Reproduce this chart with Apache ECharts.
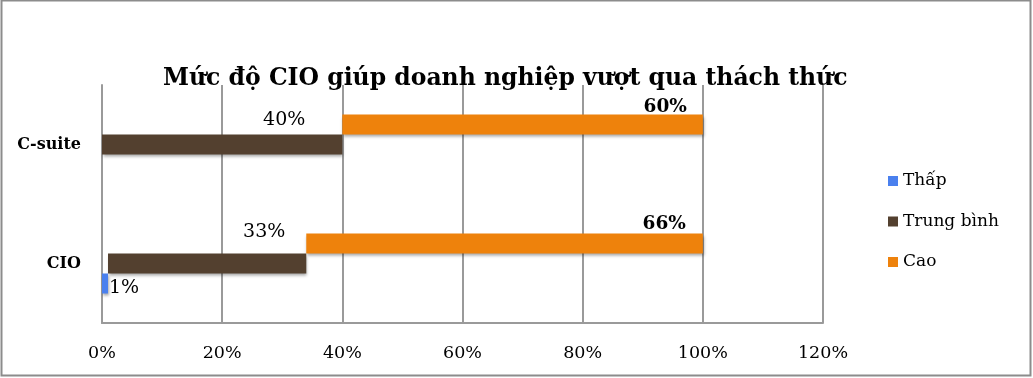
<!DOCTYPE html>
<html><head><meta charset="utf-8">
<script src="https://cdn.jsdelivr.net/npm/echarts@6/dist/echarts.min.js"></script>
<style>html,body{margin:0;padding:0;background:#fff}#c{width:1033px;height:378px}</style>
</head><body><div id="c"></div>
<script>
const categories = ['CIO', 'C-suite'];
const seriesNames = ['Thấp', 'Trung bình', 'Cao'];
const thap = [1, 0];
const trungBinh = [33, 40];
const cao = [66, 60];
const xTicks = [0, 20, 40, 60, 80, 100, 120];

// label placement tweaks (pixels), per category
const tbLabelOffsets = [[-21, -21], [-37, -14]];
const caoLabelOffsets = [[-17, -9], [-16, -7]];

const FONT = 'DejaVu Serif';
const colors = {thap: '#4a80ee', tb: '#53402f', cao: '#ee820c'};
const baseTb = thap.slice();
const baseCao = thap.map((v, i) => v + trungBinh[i]);

const shadow = {shadowColor: 'rgba(0,0,0,0.35)', shadowBlur: 3, shadowOffsetX: 1, shadowOffsetY: 2};
const common = {type: 'bar', barWidth: 20, barGap: '0%'};
const withOffsets = (vals, offs) => vals.map((v, i) => ({value: v, label: {offset: offs[i]}}));
const chart = echarts.init(document.getElementById('c'));
chart.setOption({
  animation: false,
  backgroundColor: '#fff',
  title: {text: 'Mức độ CIO giúp doanh nghiệp vượt qua thách thức', left: 158, top: 62,
    textStyle: {fontFamily: FONT, fontWeight: 'bold', fontSize: 23.5, color: '#000'}},
  legend: {orient: 'vertical', left: 883, top: 166, itemWidth: 10, itemHeight: 10, itemGap: 20.5,
    data: seriesNames, icon: 'rect',
    textStyle: {fontFamily: FONT, fontSize: 17, color: '#000', lineHeight: 20}},
  grid: {left: 102, right: 210, top: 85, bottom: 55, containLabel: false},
  xAxis: {type: 'value', min: 0, max: 120, interval: 20,
    axisLine: {show: true, lineStyle: {color: '#9a9a9a', width: 2}},
    axisTick: {show: false},
    splitLine: {show: true, lineStyle: {color: '#9a9a9a', width: 2}},
    axisLabel: {margin: 21, formatter: v => v + '%', fontFamily: FONT, fontSize: 17.5, color: '#000'}},
  yAxis: {type: 'category', data: categories,
    axisLine: {show: true, lineStyle: {color: '#9a9a9a', width: 2}},
    axisTick: {show: false},
    axisLabel: {margin: 21, fontFamily: FONT, fontSize: 16, fontWeight: 'bold', color: '#000'}},
  series: [
    Object.assign({}, common, {name: 'Cao-base', stack: 's3', data: baseCao, itemStyle: {color: 'transparent'}, silent: true}),
    Object.assign({}, common, {name: 'Cao', stack: 's3', data: withOffsets(cao, caoLabelOffsets),
      itemStyle: Object.assign({color: colors.cao}, shadow),
      label: {show: true, position: 'insideTopRight', formatter: p => p.value + '%', fontFamily: FONT, fontSize: 18.5, fontWeight: 'bold', color: '#000',
        align: 'right', verticalAlign: 'middle', distance: 0}}),
    Object.assign({}, common, {name: 'TB-base', stack: 's2', data: baseTb, itemStyle: {color: 'transparent'}, silent: true}),
    Object.assign({}, common, {name: 'Trung bình', stack: 's2', data: withOffsets(trungBinh, tbLabelOffsets),
      itemStyle: Object.assign({color: colors.tb}, shadow),
      label: {show: true, position: 'insideTopRight', formatter: p => p.value + '%', fontFamily: FONT, fontSize: 19, color: '#000',
        align: 'right', verticalAlign: 'middle', distance: 0}}),
    Object.assign({}, common, {name: 'Thấp', stack: 's1', data: thap,
      itemStyle: Object.assign({color: colors.thap}, shadow),
      label: {show: true, position: 'right', distance: 1, offset: [0, 5], formatter: p => p.value ? p.value + '%' : '', fontFamily: FONT, fontSize: 19, color: '#000'}})
  ],
  graphic: [{type: 'rect', shape: {x: 1.5, y: 0.5, width: 1029, height: 375}, style: {fill: 'none', stroke: '#8c8c8c', lineWidth: 2}, silent: true}]
});
</script></body></html>
